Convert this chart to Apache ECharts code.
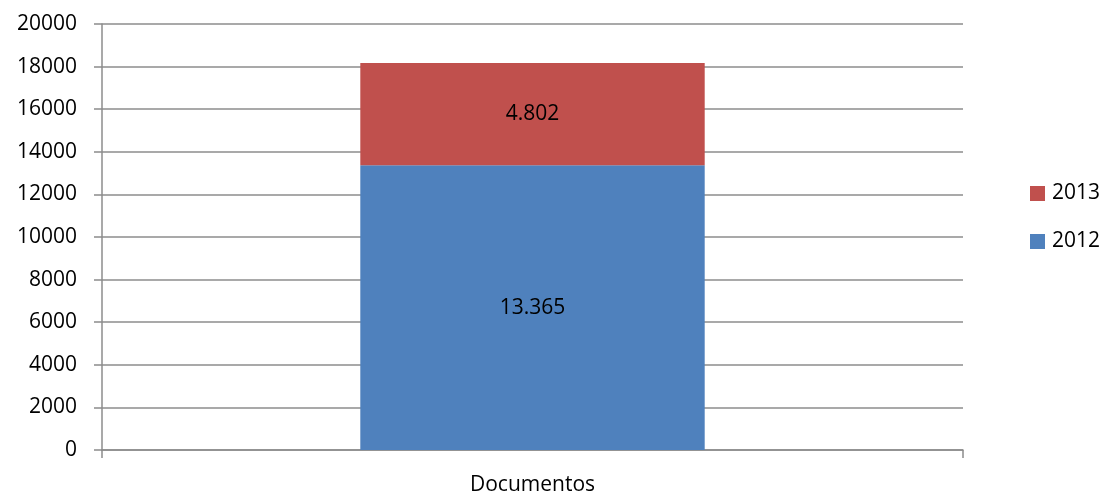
<!DOCTYPE html>
<html>
<head>
<meta charset="utf-8">
<script src="https://cdn.jsdelivr.net/npm/echarts@6/dist/echarts.min.js"></script>
<style>
  html, body { margin: 0; padding: 0; background: #fff; }
  #chart { width: 1102px; height: 496px; }
</style>
</head>
<body>
<div id="chart"></div>
<script>
const categories = ['Documentos'];
const values2012 = [13365];
const values2013 = [4802];
const labels2012 = ['13.365'];
const labels2013 = ['4.802'];

const chart = echarts.init(document.getElementById('chart'));
const font = 'Open Sans';

chart.setOption({
  animation: false,
  textStyle: { fontFamily: font },
  grid: { left: 102, right: 139, top: 24, bottom: 44 },
  legend: {
    orient: 'vertical',
    left: 1025,
    top: 178,
    itemWidth: 15,
    itemHeight: 15,
    itemGap: 27,
    icon: 'rect',
    data: ['2013', '2012'],
    textStyle: { fontSize: 21, color: '#000', fontFamily: font, padding: [0, 0, 0, 2] }
  },
  xAxis: {
    type: 'category',
    data: categories,
    axisLine: { lineStyle: { color: '#8c8c8c', width: 1.5 } },
    axisTick: { show: true, length: 8, alignWithLabel: false, lineStyle: { color: '#8c8c8c', width: 1.5 } },
    axisLabel: { fontSize: 21, color: '#000', margin: 25 }
  },
  yAxis: {
    type: 'value',
    min: 0,
    max: 20000,
    interval: 2000,
    axisLine: { show: true, lineStyle: { color: '#8c8c8c', width: 1.5 } },
    axisTick: { show: true, length: 8, lineStyle: { color: '#8c8c8c', width: 1.5 } },
    splitLine: { lineStyle: { color: '#8c8c8c', width: 1.5 } },
    axisLabel: { fontSize: 21, color: '#000', margin: 25, formatter: v => String(v) }
  },
  series: [
    {
      name: '2012',
      type: 'bar',
      stack: 'total',
      barWidth: '40%',
      itemStyle: { color: '#4f81bd' },
      data: values2012,
      label: {
        show: true,
        position: 'inside',
        color: '#000',
        fontSize: 21,
        formatter: p => labels2012[p.dataIndex]
      }
    },
    {
      name: '2013',
      type: 'bar',
      stack: 'total',
      barWidth: '40%',
      itemStyle: { color: '#c0504d' },
      data: values2013,
      label: {
        show: true,
        position: 'inside',
        color: '#000',
        fontSize: 21,
        formatter: p => labels2013[p.dataIndex]
      }
    }
  ]
});
</script>
</body>
</html>
